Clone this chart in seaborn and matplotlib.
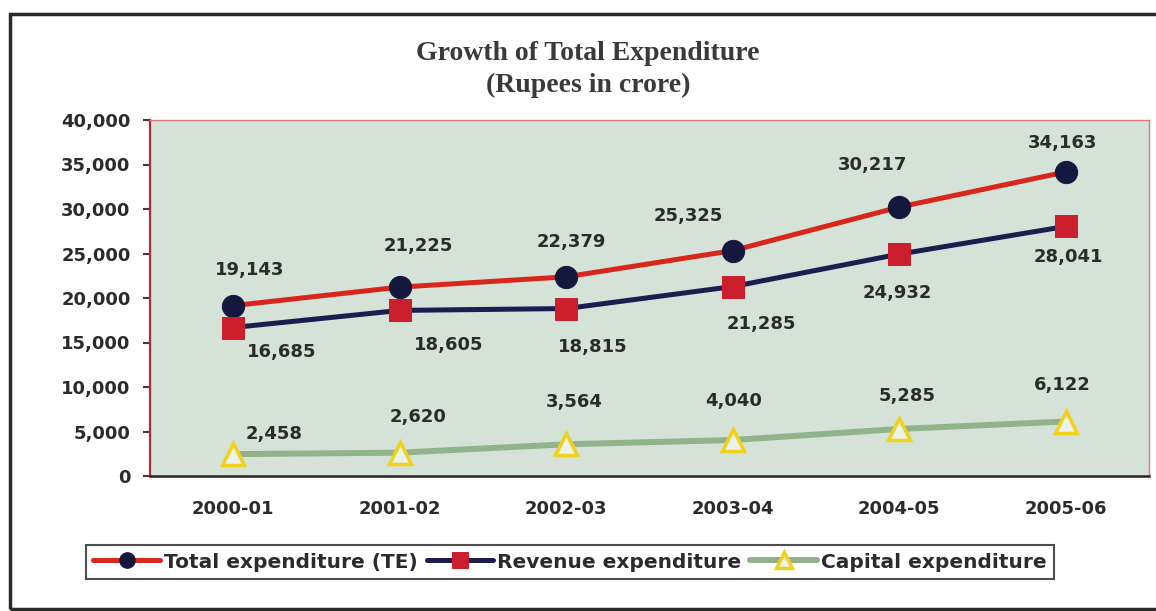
import pandas as pd
import matplotlib.pyplot as plt
import seaborn as sns
from matplotlib.ticker import FuncFormatter
from matplotlib.patches import Rectangle

years = ["2000-01", "2001-02", "2002-03", "2003-04", "2004-05", "2005-06"]
total_exp = [19143, 21225, 22379, 25325, 30217, 34163]
revenue_exp = [16685, 18605, 18815, 21285, 24932, 28041]
capital_exp = [2458, 2620, 3564, 4040, 5285, 6122]

# where each value label sits, in pixels from its point (dx, dy)
total_offsets = [(16, 36), (19, 41), (5, 35), (-44, 35), (-27, 42), (-3, 29)]
revenue_offsets = [(48, -24), (49, -35), (26, -38), (29, -37), (-2, -39), (3, -31)]
capital_offsets = [(41, 20), (18, 36), (8, 42), (1, 39), (8, 33), (-3, 37)]

sns.set_style("white")
plt.rcParams["font.family"] = ["DejaVu Sans"]
txt = "#2b2b2b"

fig = plt.figure(figsize=(11.56, 6.11), dpi=100)
ax = fig.add_axes([150 / 1156, 135 / 611, 999 / 1156, 356 / 611])
ax.set_facecolor("#d5e2d7")

df = pd.DataFrame({"year": years, "total": total_exp,
                   "revenue": revenue_exp, "capital": capital_exp})

sns.lineplot(data=df, x="year", y="total", ax=ax, sort=False, color="#d8261c",
             lw=3.6, marker="o", markersize=16, markerfacecolor="#15183e",
             markeredgecolor="#15183e", label="Total expenditure (TE)")
sns.lineplot(data=df, x="year", y="revenue", ax=ax, sort=False, color="#1c1c4e",
             lw=3.6, marker="s", markersize=16, markerfacecolor="#cc1f2e",
             markeredgecolor="#cc1f2e", label="Revenue expenditure")
sns.lineplot(data=df, x="year", y="capital", ax=ax, sort=False, color="#90b38b",
             lw=4.3, marker="^", markersize=16, markerfacecolor="#eaf2ea",
             markeredgecolor="#f0d21c", markeredgewidth=2.5,
             label="Capital expenditure")

for vals, offs in [(total_exp, total_offsets), (revenue_exp, revenue_offsets),
                   (capital_exp, capital_offsets)]:
    for i, (v, (dx, dy)) in enumerate(zip(vals, offs)):
        ax.annotate(f"{v:,}", (i, v), xytext=(dx, dy), textcoords="offset pixels",
                    ha="center", va="center", fontsize=13, fontweight="bold",
                    color=txt)

ax.set_xlim(-0.5, 5.5)
ax.set_ylim(0, 40000)
ax.set_yticks(range(0, 40001, 5000))
ax.yaxis.set_major_formatter(FuncFormatter(lambda v, p: f"{int(v):,}"))
ax.set_xticks(range(len(years)))
ax.set_xticklabels(years)
ax.set_xticks([i - 0.5 for i in range(len(years) + 1)], minor=True)
ax.tick_params(axis="x", which="major", length=0, pad=17, labelsize=13,
               labelcolor=txt)
ax.tick_params(axis="x", which="minor", length=6, width=1.5, color="#302828",
               direction="out")
ax.tick_params(axis="y", length=5, width=1.5, color="#5a3038", pad=9,
               labelsize=13, labelcolor=txt, left=True)
for lab in ax.get_xticklabels() + ax.get_yticklabels():
    lab.set_fontweight("bold")
ax.set_xlabel("")
ax.set_ylabel("")

ax.spines["left"].set_color("#a8303e")
ax.spines["left"].set_linewidth(1.6)
ax.spines["bottom"].set_color("#2a2222")
ax.spines["bottom"].set_linewidth(1.8)
for s in ["top", "right"]:
    ax.spines[s].set_color("#d47a7a")
    ax.spines[s].set_linewidth(1.0)

handles, labels = ax.get_legend_handles_labels()
ax.legend_.remove()
leg = fig.legend(handles, labels, loc="center", bbox_to_anchor=(570 / 1156, 1 - 562 / 611),
                 ncol=3, frameon=True, fancybox=False, edgecolor="#222222",
                 handlelength=3.3, handletextpad=0.2, columnspacing=0.45,
                 borderpad=0.35, markerscale=0.7,
                 prop={"size": 14.5, "weight": "bold"})
leg.get_frame().set_linewidth(1.5)
for t in leg.get_texts():
    t.set_color(txt)

fig.text(588 / 1156, 1 - 53 / 611, "Growth of Total Expenditure", ha="center",
         va="center", family="Liberation Serif", fontweight="bold", fontsize=20,
         color="#3a3a3a")
fig.text(588 / 1156, 1 - 85 / 611, "(Rupees in crore)", ha="center",
         va="center", family="Liberation Serif", fontweight="bold", fontsize=20,
         color="#3a3a3a")

fig.patches.append(Rectangle((10 / 1156, 2 / 611), 1160 / 1156, 595 / 611,
                             transform=fig.transFigure, fill=False,
                             edgecolor="#2a2a2a", lw=2.5))

fig.savefig("out.png", dpi=100, facecolor="white")
